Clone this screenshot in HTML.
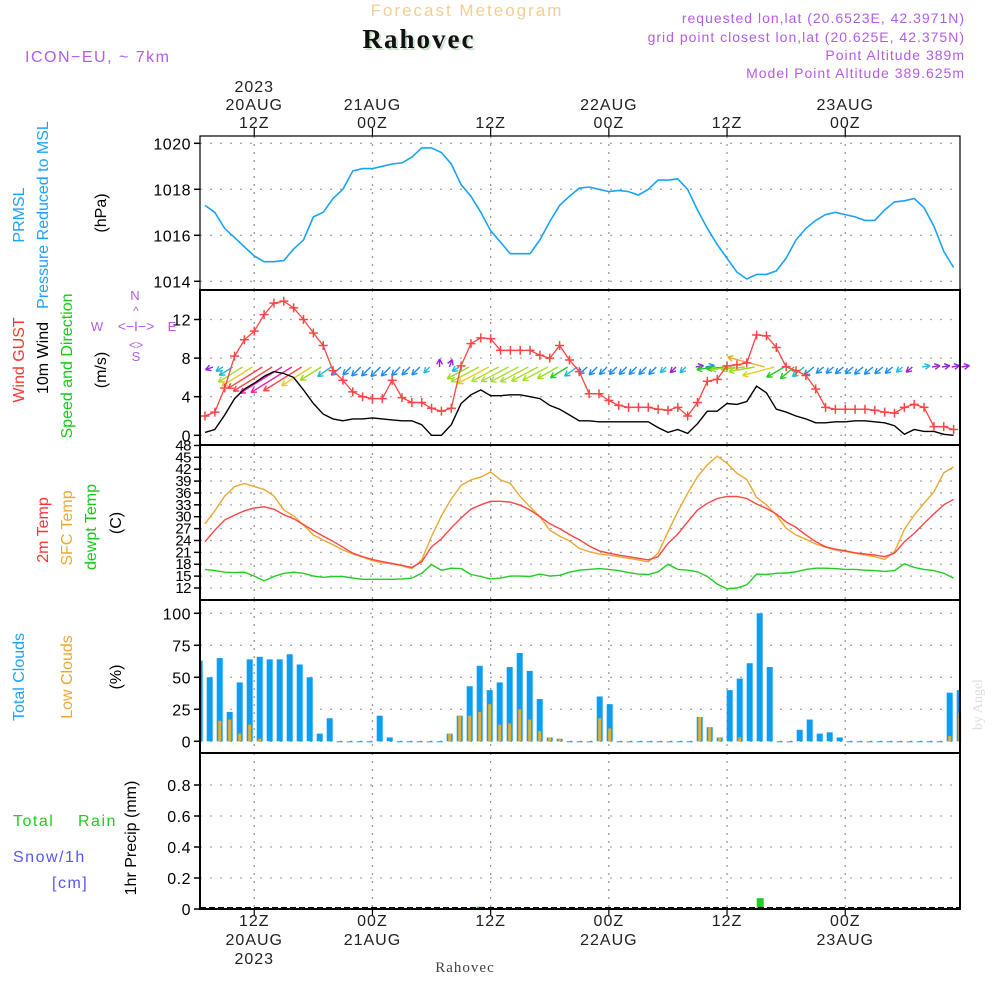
<!DOCTYPE html>
<html><head><meta charset="utf-8">
<style>
html,body{margin:0;padding:0;background:#fff;}
svg{display:block;font-family:"Liberation Sans",sans-serif;}
</style></head>
<body>
<svg id="chart" width="1000" height="1000" viewBox="0 0 1000 1000" xmlns="http://www.w3.org/2000/svg">
<rect x="0" y="0" width="1000" height="1000" fill="#fff"/>
<text x="467" y="16" text-anchor="middle" font-size="17" fill="#f3cf93" letter-spacing="2">Forecast Meteogram</text>
<text x="421" y="50" text-anchor="middle" font-size="27" font-weight="bold" font-family="Liberation Serif, serif" fill="#cde0cd" letter-spacing="2">Rahovec</text>
<text x="419" y="48" text-anchor="middle" font-size="27" font-weight="bold" font-family="Liberation Serif, serif" fill="#111" letter-spacing="2">Rahovec</text>
<text x="25" y="62" font-size="16" fill="#b35ce6" letter-spacing="1.5">ICON−EU, ~ 7km</text>
<g font-size="14" fill="#b35ce6" text-anchor="end" letter-spacing="1">
<text x="965" y="23">requested lon,lat (20.6523E, 42.3971N)</text>
<text x="965" y="42">grid point closest lon,lat (20.625E, 42.375N)</text>
<text x="965" y="60">Point Altitude 389m</text>
<text x="965" y="78">Model Point Altitude 389.625m</text>
</g>
<g id="grid"></g>
<g id="marks"></g>
<g id="axes"></g>
<g font-size="16">
<text transform="translate(24,215) rotate(-90)" text-anchor="middle" fill="#1aa3ff">PRMSL</text>
<text transform="translate(48,215) rotate(-90)" text-anchor="middle" fill="#1aa3ff">Pressure Reduced to MSL</text>
<text transform="translate(106,213) rotate(-90)" text-anchor="middle" fill="#000">(hPa)</text>
<text transform="translate(24,360) rotate(-90)" text-anchor="middle" fill="#ff3333">Wind GUST</text>
<text transform="translate(48,358) rotate(-90)" text-anchor="middle" fill="#000">10m Wind</text>
<text transform="translate(72,366) rotate(-90)" text-anchor="middle" fill="#11cc11">Speed and Direction</text>
<text transform="translate(106,370) rotate(-90)" text-anchor="middle" fill="#000">(m/s)</text>
<text transform="translate(48,530) rotate(-90)" text-anchor="middle" fill="#ff3333">2m Temp</text>
<text transform="translate(72,528) rotate(-90)" text-anchor="middle" fill="#eba832">SFC Temp</text>
<text transform="translate(96,527) rotate(-90)" text-anchor="middle" fill="#11cc11">dewpt Temp</text>
<text transform="translate(121,523) rotate(-90)" text-anchor="middle" fill="#000">(C)</text>
<text transform="translate(24,677) rotate(-90)" text-anchor="middle" fill="#1aa3ff">Total Clouds</text>
<text transform="translate(72,677) rotate(-90)" text-anchor="middle" fill="#eba832">Low Clouds</text>
<text transform="translate(121,677) rotate(-90)" text-anchor="middle" fill="#000">(%)</text>
<text transform="translate(136,838) rotate(-90)" text-anchor="middle" fill="#000">1hr Precip (mm)</text>
<text x="13" y="826" fill="#22cc22" letter-spacing="1.5">Total</text>
<text x="78" y="826" fill="#22cc22" letter-spacing="1.5">Rain</text>
<text x="13" y="862" fill="#5555ff" letter-spacing="1.5">Snow/1h</text>
<text x="52" y="888" fill="#5555ff" letter-spacing="1.5">[cm]</text>
</g>
<g font-size="13" fill="#b35ce6" stroke="none">
<text x="135" y="300" text-anchor="middle">N</text>
<text x="97" y="331" text-anchor="middle">W</text>
<text x="172" y="331" text-anchor="middle">E</text>
<text x="136" y="361" text-anchor="middle">S</text>
<text x="136" y="331" text-anchor="middle" font-size="14">&lt;−I−&gt;</text>
<text x="136" y="315" text-anchor="middle" font-size="12">^</text>
<text x="136" y="349" text-anchor="middle" font-size="12">&lt;&gt;</text>
</g>
<text transform="translate(982,730) rotate(-90)" font-size="14" font-family="Liberation Serif, serif" fill="#dddddd">by Angel</text>
<text x="465" y="972" text-anchor="middle" font-size="15" font-family="Liberation Serif, serif" fill="#444" letter-spacing="1">Rahovec</text>
</svg>
<script>
// ---- data (hourly from 07Z 20AUG) ----
const pressure = [1017.3,1017.0,1016.3,1015.9,1015.5,1015.1,1014.85,1014.85,1014.9,1015.4,1015.8,1016.8,1017.0,1017.6,1018.0,1018.8,1018.9,1018.9,1019.0,1019.1,1019.15,1019.4,1019.8,1019.8,1019.6,1019.1,1018.2,1017.7,1017.0,1016.2,1015.7,1015.2,1015.2,1015.2,1015.8,1016.6,1017.3,1017.7,1018.05,1018.1,1018.0,1017.9,1017.95,1017.9,1017.75,1018.0,1018.4,1018.4,1018.45,1018.0,1017.1,1016.3,1015.6,1015.0,1014.4,1014.1,1014.3,1014.3,1014.45,1015.0,1015.8,1016.3,1016.65,1016.9,1017.0,1016.9,1016.8,1016.65,1016.65,1017.1,1017.45,1017.5,1017.6,1017.2,1016.4,1015.3,1014.6];
const windGust = [2.0,2.4,4.9,8.2,9.9,10.8,12.5,13.7,13.9,13.2,12.0,10.6,9.3,6.7,5.7,4.5,4.0,3.8,3.8,5.7,3.9,3.4,3.4,2.8,2.5,2.8,7.2,9.5,10.1,10.0,8.8,8.8,8.8,8.8,8.3,8.0,9.3,7.8,6.6,4.3,4.3,3.6,3.1,2.9,2.9,2.9,2.7,2.6,2.9,2.0,3.4,5.6,5.8,7.2,7.3,7.5,10.4,10.3,9.1,7.1,6.7,6.2,4.8,2.9,2.7,2.7,2.7,2.7,2.6,2.4,2.3,2.9,3.2,2.9,0.9,0.9,0.6];
const windSpeed = [0.3,0.6,2.1,3.8,4.8,5.4,6.1,6.6,6.4,6.0,4.7,3.3,2.2,1.7,1.5,1.7,1.7,1.8,1.7,1.6,1.5,1.5,1.1,0.0,0.0,1.1,3.3,4.2,4.7,4.1,4.1,4.2,4.2,4.0,3.8,3.1,2.7,2.1,1.5,1.5,1.4,1.4,1.4,1.4,1.4,1.4,0.8,0.3,0.6,0.2,1.2,2.5,2.5,3.3,3.2,3.5,5.1,4.4,2.7,2.4,2.0,1.7,1.3,1.3,1.4,1.4,1.5,1.5,1.4,1.3,1.0,0.1,0.6,0.4,0.4,0.1,0.0];
const windDir = [70,58,58,58,58,58,58,58,58,58,58,58,55,50,45,45,45,45,45,45,45,45,45,180,200,60,62,62,62,62,62,62,62,62,62,60,58,55,50,45,45,45,45,45,45,45,45,45,45,260,260,82,84,84,84,80,105,75,60,50,50,50,50,50,50,50,50,50,50,50,50,50,260,260,260,260,260];
const temp2m = [23.7,26.6,29.2,30.4,31.5,32.2,32.5,31.9,30.5,29.5,28.0,26.5,25.1,23.8,22.3,20.8,19.9,19.2,18.7,18.2,17.7,17.2,18.6,22.4,24.4,27.2,29.7,31.9,33.0,33.9,33.9,33.7,32.9,31.7,30.0,28.2,27.0,25.5,24.2,22.6,21.4,20.8,20.3,19.9,19.5,19.1,19.9,23.3,25.6,28.7,31.7,33.4,34.6,35.1,35.1,34.6,33.2,32.1,30.7,28.7,27.3,25.4,23.7,22.4,21.8,21.4,20.9,20.6,20.3,19.9,20.8,23.7,25.8,28.3,30.7,33.0,34.4];
const tempSfc = [28.2,31.5,35.2,37.6,38.4,37.6,36.9,35.2,31.7,30.2,27.9,25.4,24.1,22.9,21.6,20.6,19.8,18.9,18.4,18.1,17.6,16.9,19.1,25.0,30.2,34.5,37.9,39.3,40.0,41.3,39.3,38.4,35.1,32.5,30.0,26.6,25.1,23.9,22.0,21.2,20.6,20.3,19.9,19.5,19.1,18.6,20.8,26.2,31.3,35.9,40.1,43.1,45.3,43.5,41.0,39.4,34.9,33.0,30.4,27.1,25.4,24.3,23.1,22.3,21.6,21.2,20.8,20.3,19.9,19.2,21.2,26.8,30.4,33.4,36.3,41.1,42.6];
const dewpoint = [16.7,16.4,16.0,15.9,16.0,15.0,13.8,14.9,15.7,16.0,15.7,15.0,14.7,14.9,14.9,14.5,14.2,14.2,14.2,14.2,14.3,14.5,15.7,17.9,16.5,17.0,16.9,15.4,14.9,14.3,14.5,15.0,15.0,14.9,15.5,15.0,15.2,16.0,16.5,16.7,16.9,16.7,16.4,15.9,15.5,15.4,16.1,18.0,16.7,16.5,16.1,14.9,13.0,11.8,12.0,12.8,15.5,15.4,15.7,15.8,16.1,16.7,17.0,17.0,16.9,16.7,16.7,16.5,16.4,16.2,16.4,18.1,17.2,16.7,16.4,15.7,14.5];
// clouds hourly from 06Z 20AUG
const cloudTotal = [63,50,65,23,46,64,66,64,64,68,60,50,6,18,0,0,0,0,20,3,0,0,0,0,0,6,20,43,59,40,46,58,69,55,33,3,2,0,0,0,35,29,0,0,0,0,0,0,0,0,19,11,3,40,49,61,100,58,0,0,9,17,6,7,3,0,0,0,0,0,0,0,0,0,0,38,40];
const cloudLow = [0,0,16,17,6,13,2,0,0,0,0,0,0,0,0,0,0,0,0,0,0,0,0,0,0,6,20,20,23,29,13,14,25,17,8,3,2,0,0,0,18,10,0,0,0,0,0,0,0,0,19,11,3,0,3,0,0,0,0,0,0,0,0,0,0,0,0,0,0,0,0,0,0,0,0,4,22];
const precip = [0,0,0,0,0,0,0,0,0,0,0,0,0,0,0,0,0,0,0,0,0,0,0,0,0,0,0,0,0.015,0,0,0,0,0,0,0,0,0,0,0,0,0,0,0,0,0,0,0,0,0,0,0,0,0,0,0,0.07,0,0,0,0,0,0,0,0,0,0,0,0,0,0,0,0,0,0,0,0];
const pressTicks = [1020,1018,1016,1014];
const windTicks = [0,4,8,12];
const tempTicks = [12,15,18,21,24,27,30,33,36,39,42,45,48];
const cloudTicks = [0,25,50,75,100];
const precipTicks = [0,0.2,0.4,0.6,0.8];
const timeTickHours = [5,17,29,41,53,65];
const topTickLabels = [["2023","20AUG","12Z"],["","21AUG","00Z"],["","","12Z"],["","22AUG","00Z"],["","","12Z"],["","23AUG","00Z"]];
const botTickLabels = [["12Z","20AUG","2023"],["00Z","21AUG",""],["12Z","",""],["00Z","22AUG",""],["12Z","",""],["00Z","23AUG",""]];

// ---- scales ----
const X0=200,X1=960;
const xH = i => 205 + 9.85*i;
const xBar = j => 196.7 + 10*j;
const yP = v => 143.3 + (1020 - v)*23;
const yW = v => 435.3 - v*9.65;
const yT = v => 588 - (v-12)*3.96;
const yC = v => 741.3 - v*1.28;
const yR = v => 909 - v*155;
const NS="http://www.w3.org/2000/svg";
const grid=document.getElementById('grid'), marks=document.getElementById('marks'), axes=document.getElementById('axes');
function mk(tag, attrs, parent){const e=document.createElementNS(NS,tag);for(const k in attrs)e.setAttribute(k,attrs[k]);parent.appendChild(e);return e;}

const panels=[{t:136,b:290,ticks:pressTicks,f:yP,lab:v=>v},{t:290,b:445,ticks:windTicks,f:yW,lab:v=>v},{t:445,b:600,ticks:tempTicks,f:yT,lab:v=>v},{t:600,b:753,ticks:cloudTicks,f:yC,lab:v=>v},{t:753,b:909,ticks:precipTicks,f:yR,lab:v=>v===0?"0":v.toFixed(1)}];
panels.forEach((p,pi)=>{
  p.ticks.forEach(v=>{
    const y=p.f(v);
    const g=mk('line',{x1:X0,x2:X1,y1:y,y2:y,stroke:'#aaa','stroke-width':1.3,'stroke-dasharray':'2 8'},grid);
    
    
    const tk=mk('line',{x1:X0-6,x2:X0,y1:y,y2:y,stroke:'#000','stroke-width':1.5},axes);
    
    
    const t=mk('text',{x:X0-9,y:y+(pi===2?5:6),'text-anchor':'end','font-size':pi===2?15:16,fill:'#000','letter-spacing':pi===2?-0.5:0.5},axes);
    t.textContent=p.lab(v);
    
    
  });
  timeTickHours.forEach(h=>{
    const x=xH(h);
    const g=mk('line',{x1:x,x2:x,y1:p.t,y2:p.b,stroke:'#999','stroke-width':1.3,'stroke-dasharray':'2 6'},grid);
    
    
  });
  const r=mk('rect',{x:X0,y:p.t,width:X1-X0,height:p.b-p.t,fill:'none',stroke:'#000','stroke-width':pi===0?1.2:2},axes);
  
  
});
// time ticks and labels
timeTickHours.forEach((h,k)=>{
  const x=xH(h);
  const a=mk('line',{x1:x,x2:x,y1:128,y2:136,stroke:'#000','stroke-width':1.2},axes);
  
  
  const b=mk('line',{x1:x,x2:x,y1:909,y2:916,stroke:'#000','stroke-width':1.2},axes);
  
  
  topTickLabels[k].forEach((s,r)=>{ if(!s)return;
    const t=mk('text',{x:x,y:92+r*18,'text-anchor':'middle','font-size':16,fill:'#222','letter-spacing':1},axes);
    t.textContent=s;
    
    
  });
  botTickLabels[k].forEach((s,r)=>{ if(!s)return;
    const t=mk('text',{x:x,y:926+r*19,'text-anchor':'middle','font-size':16,fill:'#222','letter-spacing':1},axes);
    t.textContent=s;
    
    
  });
});
const base=mk('line',{x1:X0,x2:X1,y1:908,y2:908,stroke:'#000','stroke-width':2,'stroke-dasharray':'6 3'},axes);



function line(arr,f,color,name,w){
  const pts=arr.map((v,i)=>xH(i).toFixed(1)+','+f(v).toFixed(1)).join(' ');
  const l=mk('polyline',{points:pts,fill:'none',stroke:color,'stroke-width':w||1.5},marks);
  
  
}
// pressure
line(pressure,yP,'#1aa3f5','pressure-line',1.6);
// wind arrows
function spdColor(s){if(s<0.5)return'#9922dd';if(s<1.2)return'#22bbdd';if(s<1.9)return'#1e8cf0';if(s<2.3)return'#22bbcc';if(s<3)return'#22cc22';if(s<3.6)return'#99dd22';if(s<4.3)return'#aadd33';if(s<4.9)return'#e8cc22';if(s<5.3)return'#eeaa33';if(s<6.3)return'#ff4444';return'#ee22aa';}
windSpeed.forEach((s,i)=>{
  const L=Math.max(8,s*7.5), a=(windDir[i]+180)*Math.PI/180;
  const dx=Math.sin(a)*L, dy=-Math.cos(a)*L;
  const x1=xH(i)+8, y1=367, x2=x1+dx, y2=y1+dy;
  const c=spdColor(s);
  const g=mk('g',{stroke:c,'stroke-width':1.4,fill:'none'},marks);
  
  
  mk('line',{x1:x1,y1:y1,x2:x2,y2:y2},g);
  const ang=Math.atan2(dy,dx);
  [0.5,-0.5].forEach(o=>{mk('line',{x1:x2,y1:y2,x2:x2-6*Math.cos(ang+o),y2:y2-6*Math.sin(ang+o)},g);});
});
line(windSpeed,yW,'#000','wind-speed-line',1.4);
line(windGust,yW,'#ff4444','wind-gust-line',1.3);
windGust.forEach((v,i)=>{
  const x=xH(i),y=yW(v);
  const p=mk('path',{d:`M${x-4.5},${y}H${x+4.5}M${x},${y-4.5}V${y+4.5}`,stroke:'#ff4444','stroke-width':1.5},marks);
  
  
});
// temps
line(tempSfc,yT,'#eba832','sfc-temp-line',1.4);
line(temp2m,yT,'#ff4444','temp-2m-line',1.4);
line(dewpoint,yT,'#22cc22','dewpoint-line',1.4);
// clouds
cloudTotal.forEach((v,j)=>{
  let x=xBar(j), w=6; if(x<X0){w-=X0-x;x=X0;} if(x+w>X1)w=X1-x; if(w<=0)return;
  const r=mk('rect',{x:x,y:yC(v),width:w,height:Math.max(1,yC(0)-yC(v)),fill:'#0a9ef5'},marks);
  
  
});
cloudLow.forEach((v,j)=>{
  if(v<=0)return;
  let x=xBar(j)+1.5, w=3; if(x<X0||x+w>X1+2)return;
  const r=mk('rect',{x:x,y:yC(v),width:w,height:yC(0)-yC(v),fill:'#e8ad2d'},marks);
  
  
});
// precip
precip.forEach((v,j)=>{
  if(v<=0)return;
  const r=mk('rect',{x:xBar(j),y:yR(v),width:7,height:yR(0)-yR(v),fill:'#22cc22'},marks);
  
  
});
</script>
</body></html>
